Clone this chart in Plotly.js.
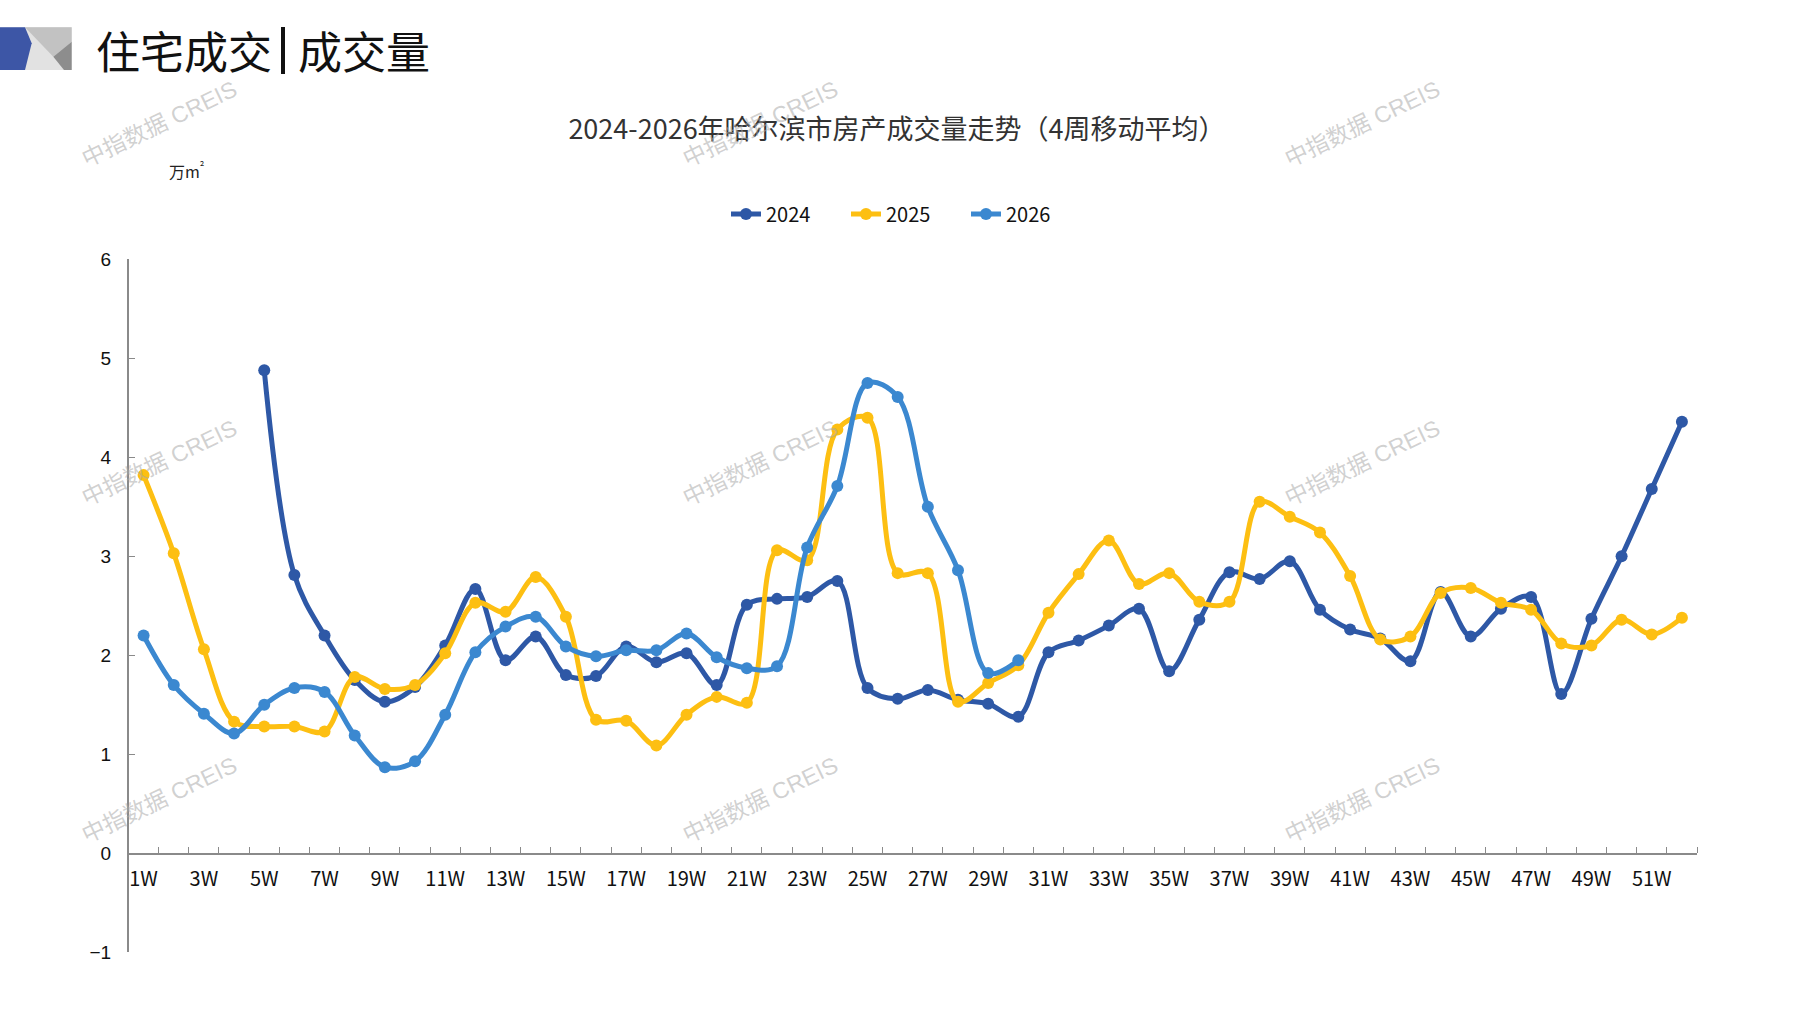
<!DOCTYPE html>
<html>
<head>
<meta charset="utf-8">
<script src="https://cdn.plot.ly/plotly-3.0.1.min.js"></script>
<style>
html,body{margin:0;padding:0;background:#fff;}
#chart{width:1797px;height:1010px;}
</style>
</head>
<body>
<div id="chart"></div>
<script>
// ---- data ----
const weeks = ["1W","2W","3W","4W","5W","6W","7W","8W","9W","10W","11W","12W","13W","14W","15W","16W","17W","18W","19W","20W","21W","22W","23W","24W","25W","26W","27W","28W","29W","30W","31W","32W","33W","34W","35W","36W","37W","38W","39W","40W","41W","42W","43W","44W","45W","46W","47W","48W","49W","50W","51W","52W"];
const seriesNames = ["2024","2025","2026"];
const v2024 = [null,null,null,null,4.88,2.81,2.20,1.75,1.53,1.68,2.10,2.67,1.95,2.19,1.80,1.79,2.09,1.93,2.02,1.70,2.51,2.57,2.59,2.75,1.67,1.56,1.65,1.55,1.51,1.38,2.03,2.15,2.30,2.47,1.84,2.36,2.84,2.77,2.95,2.46,2.26,2.17,1.94,2.64,2.19,2.47,2.59,1.61,2.37,3.00,3.68,4.36];
const v2025 = [3.82,3.03,2.06,1.33,1.28,1.28,1.23,1.78,1.66,1.70,2.02,2.53,2.44,2.79,2.39,1.35,1.34,1.09,1.40,1.58,1.52,3.06,2.96,4.28,4.40,2.83,2.83,1.53,1.72,1.90,2.43,2.82,3.16,2.72,2.83,2.54,2.54,3.55,3.40,3.24,2.80,2.16,2.19,2.63,2.68,2.53,2.46,2.12,2.10,2.36,2.21,2.38];
const v2026 = [2.20,1.70,1.41,1.21,1.50,1.67,1.63,1.19,0.87,0.93,1.40,2.03,2.29,2.39,2.09,1.99,2.05,2.05,2.22,1.98,1.87,1.89,3.09,3.71,4.75,4.61,3.50,2.86,1.82,1.95];
const yTicks = [-1,0,1,2,3,4,5,6];

// ---- layout helpers ----
const W = 1797, H = 1010;
const px = x => x / W;
const py = y => (H - y) / H;
const pos = weeks.map((w, i) => i + 1);
const labelPos = pos.filter(p => p % 2 === 1);
const labelText = labelPos.map(p => weeks[p - 1]);

const colors = ["#2E58A6", "#FDBF12", "#3B88D0"];
const vals = [v2024, v2025, v2026];

const traces = vals.map((v, k) => ({
  type: "scatter",
  mode: "lines+markers",
  name: seriesNames[k],
  x: pos.slice(0, v.length),
  y: v,
  line: {color: colors[k], width: 5, shape: "spline", smoothing: 1},
  marker: {color: colors[k], size: 12},
  connectgaps: false,
  hoverinfo: "x+y"
}));

const yTopPx = 259.3, yBotPx = 952.3;
const xLeftPx = 128.5, xRightPx = 1697;
const zeroPx = yTopPx + (yBotPx - yTopPx) * 6 / 7;

function poly(pts) {
  return "M" + pts.map(p => px(p[0]) + "," + py(p[1])).join("L") + "Z";
}

const shapes = [
  {type: "path", xref: "paper", yref: "paper", path: poly([[0,27.3],[71.7,27.3],[71.7,70],[0,70]]), fillcolor: "#e2e2e2", line: {width: 0}},
  {type: "path", xref: "paper", yref: "paper", path: poly([[25,27.3],[71.7,27.3],[71.7,41.7],[53.3,56.7]]), fillcolor: "#c2c2c2", line: {width: 0}},
  {type: "path", xref: "paper", yref: "paper", path: poly([[53.3,56.7],[71.7,41.7],[71.7,70],[64,70]]), fillcolor: "#8d8d8d", line: {width: 0}},
  {type: "path", xref: "paper", yref: "paper", path: poly([[0,27.3],[25,27.3],[31.7,43.3],[25,70],[0,70]]), fillcolor: "#3D56A6", line: {width: 0}},
  {type: "line", xref: "paper", yref: "paper", x0: px(283), x1: px(283), y0: py(27), y1: py(74), line: {color: "#111", width: 4}}
];

const wmPos = [[159,124],[760,124],[1362,124],[159,463],[760,463],[1362,463],[159,800],[760,800],[1362,800]];
const annotations = wmPos.map(p => ({
  xref: "paper", yref: "paper", x: px(p[0]), y: py(p[1]),
  xanchor: "center", yanchor: "middle", showarrow: false,
  text: "中指数据 CREIS", textangle: -25.6,
  font: {family: "Liberation Sans, Noto Sans CJK SC, sans-serif", size: 23, color: "rgba(170,170,170,0.55)"}
}));
annotations.push({
  xref: "paper", yref: "paper", x: px(94), y: py(50), xanchor: "left", yanchor: "middle",
  showarrow: false, text: "住宅成交",
  font: {family: "Noto Sans CJK SC, sans-serif", size: 44, color: "#111"}
});
annotations.push({
  xref: "paper", yref: "paper", x: px(296), y: py(50), xanchor: "left", yanchor: "middle",
  showarrow: false, text: "成交量",
  font: {family: "Noto Sans CJK SC, sans-serif", size: 44, color: "#111"}
});
annotations.push({
  xref: "paper", yref: "paper", x: px(186), y: py(170), xanchor: "center", yanchor: "middle",
  showarrow: false, text: "万m<sup>²</sup>",
  font: {family: "Noto Sans CJK SC, sans-serif", size: 16, color: "#222"}
});

const layout = {
  width: W, height: H,
  margin: {l: 0, r: 0, t: 0, b: 0},
  paper_bgcolor: "#fff", plot_bgcolor: "rgba(0,0,0,0)",
  showlegend: true,
  title: {
    text: "2024-2026年哈尔滨市房产成交量走势（4周移动平均）",
    x: px(897), y: py(130), xanchor: "center", yanchor: "middle",
    xref: "paper", yref: "paper",
    font: {family: "Liberation Sans Narrow, Noto Sans CJK SC, sans-serif", size: 27, color: "#333"}
  },
  legend: {
    orientation: "h", x: px(726), y: py(214), xanchor: "left", yanchor: "middle",
    font: {family: "Liberation Sans Narrow, Noto Sans CJK SC, sans-serif", size: 20, color: "#111"},
    entrywidth: 75, entrywidthmode: "pixels",
    bgcolor: "rgba(0,0,0,0)"
  },
  xaxis: {
    domain: [px(xLeftPx), px(xRightPx)],
    range: [0.5, 52.5],
    anchor: "free", position: py(zeroPx),
    tickmode: "array", tickvals: labelPos, ticktext: labelText,
    ticks: "", ticklabelstandoff: 7,
    showline: true, linecolor: "#8a8a8a", linewidth: 1.5,
    showgrid: false, zeroline: false,
    tickfont: {family: "Liberation Sans Narrow, Noto Sans CJK SC, sans-serif", size: 20, color: "#111"},
    minor: {tickmode: "linear", tick0: 0.5, dtick: 1, ticks: "inside", ticklen: 6, tickwidth: 1, tickcolor: "#8a8a8a", showgrid: false}
  },
  yaxis: {
    domain: [py(yBotPx), py(yTopPx)],
    range: [-1, 6],
    tickmode: "array", tickvals: yTicks,
    ticks: "inside", ticklen: 6, tickwidth: 1, tickcolor: "#8a8a8a",
    ticklabelstandoff: 12,
    showline: true, linecolor: "#8a8a8a", linewidth: 1.5,
    showgrid: false, zeroline: false,
    tickfont: {family: "Liberation Sans, Arial, sans-serif", size: 19, color: "#111"}
  },
  shapes: shapes,
  annotations: annotations
};

Plotly.newPlot("chart", traces, layout, {displayModeBar: false, staticPlot: true});
</script>
</body>
</html>
